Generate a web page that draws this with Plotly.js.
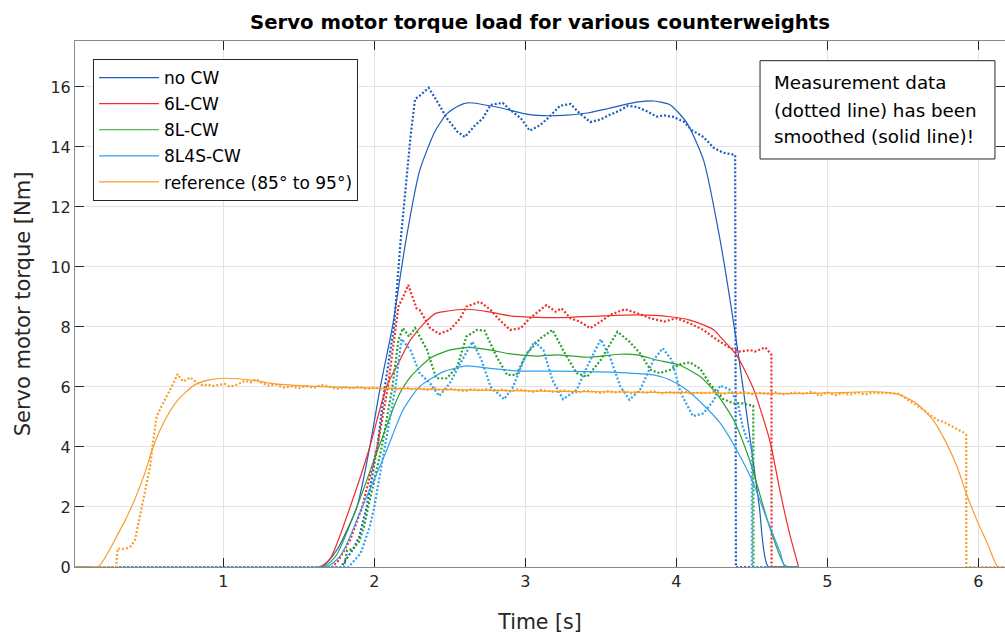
<!DOCTYPE html>
<html>
<head>
<meta charset="utf-8">
<script src="https://cdn.plot.ly/plotly-3.0.1.min.js"></script>
<style>html,body{margin:0;padding:0;background:#fff}#chart{width:1005px;height:635px}</style>
</head>
<body>
<div id="chart"></div>
<script>
// ---------- data (time in s, torque in Nm) ----------
const seriesNames = ["no CW", "6L-CW", "8L-CW", "8L4S-CW", "reference (85° to 95°)"];

// no CW
const tNoCWMeas = [0.02,1.78,1.82,1.86,1.90,1.95,2.02,2.07,2.13,2.175,2.24,2.27,2.30,2.36,2.41,2.48,2.55,2.60,2.66,2.72,2.77,2.85,2.90,2.97,3.03,3.10,3.16,3.23,3.30,3.36,3.43,3.50,3.56,3.62,3.68,3.74,3.81,3.87,3.92,3.98,4.05,4.10,4.18,4.25,4.31,4.39,4.395,4.81];
const noCWMeas  = [0,0,0.3,0.6,1.0,2.0,4.0,6.0,8.0,10.9,14.34,15.6,15.7,15.97,15.57,14.96,14.51,14.33,14.68,14.96,15.4,15.47,15.23,14.96,14.54,14.73,15.01,15.37,15.43,15.12,14.83,14.92,15.07,15.2,15.37,15.33,15.18,15.01,15.05,15.0,14.84,14.57,14.33,13.96,13.81,13.73,0,0];
const tNoCWSmooth = [0.02,1.65,1.75,1.885,1.97,2.04,2.12,2.21,2.30,2.40,2.48,2.55,2.62,2.81,3.0,3.08,3.25,3.41,3.55,3.65,3.75,3.85,3.96,4.07,4.18,4.29,4.41,4.49,4.55,4.61,4.81];
const noCWSmooth  = [0,0,0.55,2.0,4.0,6.0,8.0,10.9,13.2,14.5,15.1,15.35,15.47,15.33,15.1,15.05,15.05,15.13,15.28,15.4,15.5,15.53,15.4,14.8,13.57,10.9,7.12,4.23,2.01,0,0];

// 6L-CW
const t6LMeas = [0.02,1.72,1.76,1.84,1.92,2.02,2.09,2.14,2.16,2.20,2.225,2.28,2.30,2.37,2.43,2.50,2.57,2.61,2.70,2.77,2.83,2.90,2.97,3.03,3.10,3.14,3.20,3.24,3.30,3.36,3.43,3.50,3.56,3.66,3.74,3.83,3.92,4.00,4.09,4.18,4.27,4.36,4.42,4.49,4.52,4.59,4.63,4.631,4.81];
const sixLMeas = [0,0,0.2,0.9,2.0,4.0,6.0,8.0,8.68,9.1,9.4,8.62,8.57,7.96,7.77,7.9,8.29,8.68,8.84,8.57,8.23,7.9,7.96,8.29,8.57,8.73,8.51,8.62,8.29,8.18,7.96,8.18,8.4,8.59,8.46,8.29,8.18,8.29,8.12,7.9,7.57,7.29,7.18,7.23,7.18,7.32,7.07,0,0];
const t6LSmooth = [0.02,1.63,1.71,1.84,1.97,2.08,2.17,2.24,2.33,2.41,2.46,2.61,2.75,2.90,3.08,3.30,3.52,3.74,3.96,4.09,4.18,4.25,4.29,4.40,4.51,4.62,4.69,4.75,4.81];
const sixLSmooth = [0,0,0.3,2.0,4.0,6.0,6.9,7.57,8.12,8.46,8.51,8.59,8.51,8.37,8.32,8.32,8.37,8.4,8.34,8.23,8.07,7.9,7.68,7.05,5.95,4.2,2.46,1.12,0];

// 8L-CW
const t8LMeas = [0.02,1.80,1.82,1.86,1.90,1.93,1.96,2.05,2.12,2.16,2.19,2.23,2.27,2.35,2.41,2.48,2.55,2.61,2.68,2.73,2.81,2.88,2.94,3.01,3.10,3.18,3.25,3.34,3.41,3.50,3.61,3.69,3.76,3.83,3.89,3.96,4.02,4.09,4.16,4.22,4.31,4.38,4.44,4.51,4.511,4.81];
const eightLMeas = [0,0,0.55,0.6,0.85,1.3,2.0,4.0,6.0,7.57,7.96,7.68,7.96,7.23,6.29,6.29,6.68,7.68,7.9,7.88,7.01,6.4,6.4,7.12,7.62,7.9,7.23,6.46,6.34,6.9,7.84,7.51,7.12,6.57,6.46,6.57,6.75,6.82,6.6,6.12,5.6,5.45,5.45,5.37,0,0];
const t8LSmooth = [0.02,1.66,1.75,1.885,2.03,2.13,2.17,2.24,2.37,2.50,2.63,2.77,2.90,3.08,3.21,3.41,3.63,3.74,3.87,4.02,4.16,4.27,4.38,4.49,4.61,4.72,4.81];
const eightLSmooth = [0,0,0.4,2.0,4.0,5.34,5.8,6.34,6.96,7.23,7.32,7.23,7.1,7.03,7.07,6.99,7.09,7.07,6.9,6.73,6.34,5.75,4.9,3.5,1.46,0.05,0];

// 8L4S-CW
const t8L4SMeas = [0.02,1.83,1.91,1.97,2.00,2.07,2.14,2.18,2.24,2.30,2.37,2.43,2.50,2.57,2.65,2.71,2.77,2.86,2.92,2.99,3.06,3.12,3.18,3.25,3.34,3.41,3.50,3.56,3.63,3.69,3.76,3.85,3.91,3.97,4.03,4.11,4.18,4.25,4.29,4.36,4.41,4.44,4.47,4.50,4.501,4.81];
const eightL4SMeas = [0,0,0.46,1.34,2.0,4.0,6.0,7.6,7.23,6.46,6.12,5.7,6.12,6.79,7.51,6.9,6.01,5.59,6.01,6.9,7.51,7.23,6.23,5.59,5.9,6.68,7.59,7.01,6.01,5.57,5.9,6.9,7.29,6.9,5.79,5.03,5.12,5.57,6.05,5.9,5.4,4.68,4.23,4.01,0,0];
const t8L4SSmooth = [0.02,1.68,1.78,1.92,2.075,2.19,2.30,2.46,2.61,2.77,2.97,3.19,3.41,3.63,3.85,3.96,4.07,4.18,4.29,4.40,4.51,4.60,4.69,4.72,4.81];
const eightL4SSmooth = [0,0,0.4,2.0,3.8,5.23,6.01,6.51,6.7,6.62,6.53,6.53,6.51,6.48,6.4,6.23,5.9,5.4,4.8,3.9,2.8,1.6,0.45,0,0];

// reference (85° to 95°)
const tRefMeas = [0.02,0.29,0.30,0.33,0.36,0.39,0.415,0.448,0.48,0.515,0.536,0.559,0.585,0.603,0.636,0.669,0.698,0.715,0.735,0.76,0.78,0.81,0.835,0.87,0.90,0.923,0.96,1.01,1.04,1.07,1.11,1.144,1.18,1.22,1.26,
  1.30,1.35,1.40,1.45,1.50,1.55,1.60,1.65,1.70,1.75,1.80,1.85,1.90,1.95,2.00,2.05,2.10,2.15,2.20,2.25,2.30,2.35,2.40,2.45,2.50,2.55,2.60,2.65,2.70,2.75,2.80,2.85,2.90,2.95,3.00,3.05,3.10,3.15,3.20,3.25,3.30,3.35,3.40,3.45,3.50,3.55,3.60,3.65,3.70,3.75,3.80,3.85,3.90,3.95,4.00,4.05,4.10,4.15,4.20,4.25,4.30,4.35,4.40,4.45,4.50,4.55,4.60,4.65,4.70,4.75,4.80,4.85,4.90,4.95,5.00,5.05,5.10,5.15,5.20,5.25,5.30,5.35,5.40,5.45,
  5.48,5.52,5.57,5.60,5.64,5.67,5.70,5.73,5.77,5.80,5.83,5.87,5.91,5.92,5.921,6.18];
const refMeas = [0,0,0.62,0.6,0.62,0.7,0.9,1.68,2.46,3.34,4.23,5.01,5.3,5.46,5.79,6.12,6.43,6.3,6.18,6.25,6.32,6.2,6.12,6.05,6.08,6.03,6.05,6.1,6.02,6.03,6.12,6.21,6.15,6.26,6.12,
  6.05,6.08,5.98,6.02,5.96,6.03,5.97,6.07,6.02,5.93,5.99,5.95,6.01,5.94,5.98,5.91,5.97,5.92,5.99,5.93,5.96,5.90,5.95,5.88,5.94,5.90,5.86,5.93,5.89,5.94,5.87,5.91,5.85,5.92,5.88,5.84,5.90,5.86,5.83,5.89,5.85,5.81,5.88,5.84,5.80,5.86,5.82,5.87,5.79,5.84,5.81,5.86,5.78,5.83,5.80,5.85,5.77,5.82,5.79,5.84,5.76,5.81,5.78,5.84,5.76,5.80,5.77,5.83,5.75,5.79,5.82,5.77,5.85,5.70,5.83,5.72,5.80,5.74,5.82,5.75,5.81,5.79,5.80,5.78,
  5.77,5.62,5.46,5.35,5.23,5.10,5.01,4.90,4.84,4.76,4.68,4.58,4.46,4.40,0,0];
const tRefSmooth = [0.02,0.17,0.305,0.393,0.48,0.536,0.614,0.70,0.81,0.90,1.01,1.21,1.34,1.6,2.0,2.5,3.0,3.5,4.0,4.5,4.75,5.0,5.31,5.46,5.59,5.70,5.79,5.86,5.92,5.99,6.06,6.13,6.18];
const refSmooth = [0,0,1.12,2.01,3.12,4.01,4.9,5.57,6.07,6.23,6.29,6.21,6.1,6.02,5.96,5.91,5.87,5.84,5.81,5.79,5.78,5.8,5.84,5.77,5.46,4.9,4.12,3.34,2.46,1.57,0.79,0,0];

const xTicks = [1, 2, 3, 4, 5, 6];
const yTicks = [0, 2, 4, 6, 8, 10, 12, 14, 16];

// ---------- styling ----------
const colors = ["#1f5cbf", "#ee2f2a", "#2ba12b", "#2f9ff0", "#f99d2a"];
const FONT = "DejaVu Sans, Liberation Sans, Arial, sans-serif";

const meas = [[tNoCWMeas, noCWMeas],[t6LMeas, sixLMeas],[t8LMeas, eightLMeas],[t8L4SMeas, eightL4SMeas],[tRefMeas, refMeas]];
const smooth = [[tNoCWSmooth, noCWSmooth],[t6LSmooth, sixLSmooth],[t8LSmooth, eightLSmooth],[t8L4SSmooth, eightL4SSmooth],[tRefSmooth, refSmooth]];

const traces = [];
for (let i = 0; i < seriesNames.length; i++) {
  traces.push({
    x: smooth[i][0], y: smooth[i][1], type: "scatter", mode: "lines",
    name: seriesNames[i], legendgroup: "g" + i,
    line: {color: colors[i], width: 1.2, shape: "spline", smoothing: 0.6}
  });
  traces.push({
    x: meas[i][0], y: meas[i][1], type: "scatter", mode: "lines",
    name: seriesNames[i] + " (measured)", legendgroup: "g" + i, showlegend: false,
    line: {color: colors[i], width: 2.2, dash: "2px,2px"}
  });
}

const axisCommon = {
  showline: true, linecolor: "#8a8a8a", linewidth: 1, mirror: "ticks",
  ticks: "inside", ticklen: 9, tickcolor: "#262626", tickwidth: 1,
  showgrid: true, gridcolor: "#e3e3e3", gridwidth: 1, zeroline: false,
  tickfont: {family: FONT, size: 16, color: "#262626"}
};

const layout = {
  width: 1005, height: 635,
  margin: {l: 75, r: 0, t: 41, b: 68},
  paper_bgcolor: "#ffffff", plot_bgcolor: "#ffffff",
  font: {family: FONT, color: "#262626"},
  title: {text: "<b>Servo motor torque load for various counterweights</b>",
          font: {family: FONT, size: 19.7, color: "#000000"},
          x: 0.5, xref: "paper", y: 1 - 22/635, yref: "container", yanchor: "middle"},
  xaxis: Object.assign({}, axisCommon, {
    range: [0.018, 6.177], tickmode: "array", tickvals: xTicks, ticktext: xTicks.map(String),
    title: {text: "Time [s]", font: {family: FONT, size: 20.5, color: "#262626"}, standoff: 24}
  }),
  yaxis: Object.assign({}, axisCommon, {
    range: [0, 17.53], tickmode: "array", tickvals: yTicks, ticktext: yTicks.map(String),
    title: {text: "Servo motor torque [Nm]", font: {family: FONT, size: 21, color: "#262626"}, standoff: 14}
  }),
  showlegend: true,
  legend: {
    x: 0.0194, y: 0.9658, xanchor: "left", yanchor: "top",
    bgcolor: "#ffffff", bordercolor: "#262626", borderwidth: 1,
    font: {family: FONT, size: 17, color: "#000000"},
    traceorder: "grouped", tracegroupgap: 1, itemwidth: 60
  },
  shapes: [{
    type: "rect", xref: "paper", yref: "paper",
    x0: 0.7366, x1: 0.9892, y0: 0.7757, y1: 0.9626,
    line: {color: "#262626", width: 1}, fillcolor: "#ffffff", layer: "above"
  }],
  annotations: [
    "Measurement data", "(dotted line) has been", "smoothed (solid line)!"
  ].map((txt, k) => ({
    text: txt, xref: "paper", yref: "paper", x: 0.7491, y: [0.9202, 0.8688, 0.8175][k],
    xanchor: "left", yanchor: "middle", showarrow: false,
    font: {family: FONT, size: 18.3, color: "#000000"}
  }))
};

Plotly.newPlot("chart", traces, layout, {displayModeBar: false, staticPlot: true});
</script>
</body>
</html>
